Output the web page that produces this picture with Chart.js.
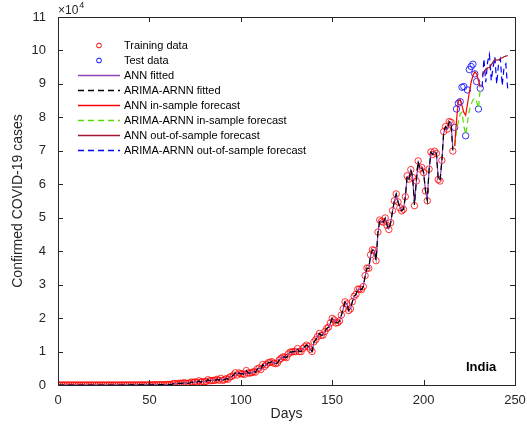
<!DOCTYPE html>
<html>
<head>
<meta charset="utf-8">
<script src="https://cdn.jsdelivr.net/npm/chart.js@4.4.1/dist/chart.umd.min.js"></script>
<style>
  html, body { margin: 0; padding: 0; background: #fff; }
  #wrap { width: 527px; height: 425px; }
</style>
</head>
<body>
<div id="wrap"><canvas id="c" width="527" height="425"></canvas></div>
<script>
// Daily confirmed COVID-19 cases, India. Day 0 .. 216 used for training.
const trainStartDay = 0;
const trainCases = [
  // days 0-32
  0,0,1,0,0,1,1,0,0,0,0,0,0,0,0,0,0,0,0,0,0,0,0,0,0,0,0,0,0,0,0,0,0,
  // days 33-63
  0,2,1,22,2,1,3,5,9,15,8,10,10,23,27,15,11,35,23,58,79,69,99,86,88,75,149,151,143,92,417,
  // days 64-93
  437,235,478,525,505,704,508,485,591,896,768,918,796,1248,869,1032,948,1061,1578,1263,1335,1383,1409,1684,1429,1990,1396,1543,1897,1718,
  // days 94-124
  2391,2564,2952,3656,2971,3602,3344,3339,3175,4311,3592,3562,3726,3991,3808,4794,5050,4628,6147,5553,6088,6654,6767,6977,6535,6387,6566,7466,7964,8380,8392,
  // days 125-154
  8171,9304,9851,9887,9971,9983,10882,9987,9985,10956,11458,11929,11502,10667,10032,12881,13586,14516,15413,14821,14933,15968,16922,17296,18552,19906,19459,18522,18653,19148,
  // days 155-185
  20903,22771,24850,24248,22252,22752,24879,26506,27114,28637,28701,28498,29429,32695,34956,34884,38902,40425,40243,37148,45720,49310,48916,48661,49931,47704,46484,48513,52123,55078,57118,
  // days 186-216
  54735,52972,52050,52509,56282,62538,61537,64399,62064,53601,60963,66999,64553,65002,63490,57981,55079,64531,69652,68898,69878,69239,61408,60975,67151,75760,77266,76472,78761,78512,69921
];

// Held-out test days 217 .. 231
const testStartDay = 217;
const testCases = [77000,82500,84200,84700,89000,89200,74500,88200,94300,95200,95900,93000,90700,82500,88700];

// Model fits over the training days
const annFitted = [
  0,0,0,0,0,0,0,0,0,0,0,0,0,0,0,0,0,0,0,0,0,0,0,0,0,0,0,0,0,0,0,0,0,
  5,4,6,12,9,7,8,10,13,16,14,15,17,24,28,22,20,33,30,55,74,72,95,90,92,84,140,150,148,110,380,
  420,300,460,510,520,670,540,510,600,860,790,900,830,1190,920,1040,980,1080,1500,1300,1360,1400,1430,1650,1480,1930,1450,1570,1860,1750,
  2330,2520,2900,3560,3050,3560,3380,3360,3240,4200,3680,3610,3760,3980,3860,4720,5000,4700,6020,5620,6080,6600,6740,6930,6580,6450,6600,7400,7900,8300,8380,
  8230,9220,9800,9880,9960,10000,10800,10050,10020,10900,11400,11850,11520,10750,10150,12700,13500,14400,15300,14900,14980,15900,16850,17250,18450,19800,19500,18650,18700,19150,
  20800,22650,24700,24300,22450,22850,24800,26400,27050,28500,28700,28550,29400,32500,34800,34900,38700,40300,40200,37500,45300,49000,48900,48700,49800,47900,46700,48500,51900,54900,56900,
  54900,53200,52300,52600,56100,62200,61600,64200,62200,54200,60700,66600,64700,65000,63600,58400,55500,64200,69400,68900,69800,69300,61900,61300,67000,75400,77000,76500,78500,78400,70500
];
const hybridFitted = [
  0,0,0,0,0,0,0,0,0,0,0,0,0,0,0,0,0,0,0,0,0,0,0,0,0,0,0,0,0,0,0,0,0,
  3,3,5,18,6,4,5,8,11,14,10,12,13,21,26,17,14,32,25,54,76,70,96,88,89,79,142,150,145,98,400,
  430,250,470,520,508,690,515,492,590,880,775,910,805,1230,880,1035,955,1065,1560,1275,1340,1385,1410,1675,1440,1970,1410,1550,1885,1725,
  2370,2555,2940,3630,2990,3595,3350,3345,3190,4280,3610,3570,3730,3990,3820,4770,5040,4650,6110,5570,6085,6640,6760,6965,6545,6400,6570,7440,7950,8365,8390,
  8190,9280,9840,9885,9970,9985,10860,10000,9990,10940,11450,11915,11510,10690,10060,12820,13560,14490,15390,14840,14935,15950,16900,17290,18520,19870,19470,18550,18660,19150,
  20860,22730,24810,24260,22300,22760,24860,26480,27100,28610,28700,28510,29420,32630,34910,34890,38830,40390,40240,37230,45570,49220,48910,48670,49900,47750,46530,48510,52050,55020,57070,
  54780,53010,52080,52520,56220,62410,61550,64350,62090,53780,60910,66900,64580,65000,63520,58090,55160,64460,69580,68900,69860,69250,61520,61050,67100,75660,77230,76490,78710,78500,70100
];

// In-sample forecasts over the test days (217 .. 231)
const annInSample    = [71400,79000,85000,85300,83500,81500,80600,84000,87500,90500,92500,93600,93000,91000,89000];
const hybridInSample = [71400,76000,78700,81000,81600,77500,74800,78500,82000,84000,85200,85800,84800,82600,88700];

// Out-of-sample forecasts beyond the data (days 232 .. 246)
const outStartDay = 232;
const annOutSample    = [92500,93500,94500,94800,94900,95700,96500,97400,97100,97200,97500,97800,98100,98300,98500];
const hybridOutSample = [89000,97500,90500,96500,98800,91000,95000,98000,90000,96000,97500,89500,95000,96000,88500];

const xTicks = [0, 50, 100, 150, 200, 250];
const yTicks = [0,10000,20000,30000,40000,50000,60000,70000,80000,90000,100000,110000];

const toPoints = (start, arr) => arr.map((v, i) => ({ x: start + i, y: v }));

const FONT = "'Liberation Sans', Arial, Helvetica, sans-serif";
const INK = '#262626';

const legendItems = [
  { label: 'Training data', kind: 'marker', color: '#ff0000' },
  { label: 'Test data', kind: 'marker', color: '#0000ff' },
  { label: 'ANN fitted', kind: 'line', color: '#8e44b8', dash: [] },
  { label: 'ARIMA-ARNN fitted', kind: 'line', color: '#000000', dash: [6, 4] },
  { label: 'ANN in-sample forecast', kind: 'line', color: '#ff0000', dash: [] },
  { label: 'ARIMA-ARNN in-sample forecast', kind: 'line', color: '#55dd00', dash: [6, 4] },
  { label: 'ANN out-of-sample forecast', kind: 'line', color: '#a2142f', dash: [] },
  { label: 'ARIMA-ARNN out-of-sample forecast', kind: 'line', color: '#0000ff', dash: [6, 4] }
];

const frame = {
  id: 'frame',
  afterDraw(chart) {
    const { ctx, chartArea: a, scales } = chart;
    ctx.save();
    // axes box
    ctx.strokeStyle = INK;
    ctx.lineWidth = 1;
    ctx.setLineDash([]);
    ctx.strokeRect(Math.round(a.left) + 0.5, Math.round(a.top) + 0.5,
                   Math.round(a.right - a.left), Math.round(a.bottom - a.top));
    // inward tick marks on all four sides
    const tl = 5;
    ctx.beginPath();
    xTicks.forEach(v => {
      const px = Math.round(scales.x.getPixelForValue(v)) + 0.5;
      ctx.moveTo(px, a.bottom); ctx.lineTo(px, a.bottom - tl);
      ctx.moveTo(px, a.top); ctx.lineTo(px, a.top + tl);
    });
    yTicks.forEach(v => {
      const py = Math.round(scales.y.getPixelForValue(v)) + 0.5;
      ctx.moveTo(a.left, py); ctx.lineTo(a.left + tl, py);
      ctx.moveTo(a.right, py); ctx.lineTo(a.right - tl, py);
    });
    ctx.stroke();

    // exponent label
    ctx.fillStyle = INK;
    ctx.textBaseline = 'alphabetic';
    ctx.textAlign = 'left';
    ctx.font = `12px ${FONT}`;
    ctx.fillText('\u00d710', a.left, a.top - 3);
    const w = ctx.measureText('\u00d710').width;
    ctx.font = `9px ${FONT}`;
    ctx.fillText('4', a.left + w + 1, a.top - 9);

    // axis titles
    ctx.font = `14px ${FONT}`;
    ctx.textAlign = 'center';
    ctx.fillText('Days', (a.left + a.right) / 2, 418);
    ctx.save();
    ctx.translate(22, (a.top + a.bottom) / 2);
    ctx.rotate(-Math.PI / 2);
    ctx.fillText('Confirmed COVID-19 cases', 0, 0);
    ctx.restore();

    // country tag
    ctx.font = `bold 13px ${FONT}`;
    ctx.textAlign = 'left';
    ctx.fillStyle = '#000';
    ctx.fillText('India', 466, 371);

    // legend
    const x0 = 78, x1 = 120, tx = 124, y0 = 45, dy = 15;
    ctx.font = `11px ${FONT}`;
    ctx.textBaseline = 'middle';
    legendItems.forEach((it, i) => {
      const y = y0 + i * dy;
      ctx.strokeStyle = it.color;
      if (it.kind === 'marker') {
        ctx.lineWidth = 1;
        ctx.setLineDash([]);
        ctx.beginPath();
        ctx.arc((x0 + x1) / 2, y + 0.5, 2.4, 0, Math.PI * 2);
        ctx.stroke();
      } else {
        ctx.lineWidth = 1.3;
        ctx.setLineDash(it.dash);
        ctx.beginPath();
        ctx.moveTo(x0, y + 0.5); ctx.lineTo(x1, y + 0.5);
        ctx.stroke();
        ctx.setLineDash([]);
      }
      ctx.fillStyle = '#000';
      ctx.fillText(it.label, tx, y + 0.5);
    });
    ctx.restore();
  }
};

const lineDs = (label, data, color, dash, order) => ({
  label, data, borderColor: color, borderWidth: 1.2, borderDash: dash,
  pointRadius: 0, fill: false, tension: 0, order
});

new Chart(document.getElementById('c'), {
  type: 'line',
  data: {
    datasets: [
      lineDs('ARIMA-ARNN fitted', toPoints(trainStartDay, hybridFitted), '#000000', [6, 4], 1),
      lineDs('ANN fitted', toPoints(trainStartDay, annFitted), '#8e44b8', [], 2),
      lineDs('ANN in-sample forecast', toPoints(testStartDay, annInSample), '#ff0000', [], 3),
      lineDs('ARIMA-ARNN in-sample forecast', toPoints(testStartDay, hybridInSample), '#55dd00', [6, 4], 4),
      lineDs('ANN out-of-sample forecast', toPoints(outStartDay, annOutSample), '#a2142f', [], 5),
      lineDs('ARIMA-ARNN out-of-sample forecast', toPoints(outStartDay, hybridOutSample), '#0000ff', [6, 4], 6),
      {
        label: 'Training data', data: toPoints(trainStartDay, trainCases), showLine: false,
        pointStyle: 'circle', pointRadius: 3.2, pointBorderColor: '#ff0000', pointBorderWidth: 0.8,
        pointBackgroundColor: 'rgba(0,0,0,0)', order: 7
      },
      {
        label: 'Test data', data: toPoints(testStartDay, testCases), showLine: false,
        pointStyle: 'circle', pointRadius: 3.2, pointBorderColor: '#0000ff', pointBorderWidth: 0.8,
        pointBackgroundColor: 'rgba(0,0,0,0)', order: 8
      }
    ]
  },
  options: {
    responsive: false,
    animation: false,
    events: [],
    layout: { padding: { top: 17, right: 12, left: 0, bottom: 0 } },
    plugins: { legend: { display: false }, tooltip: { enabled: false } },
    scales: {
      x: {
        type: 'linear', min: 0, max: 250,
        afterBuildTicks: s => { s.ticks = xTicks.map(v => ({ value: v })); },
        afterFit: s => { s.height = 40; },
        grid: { display: false }, border: { display: false },
        ticks: { font: { family: FONT, size: 13 }, color: INK, padding: 0, maxRotation: 0 }
      },
      y: {
        type: 'linear', min: 0, max: 110000,
        afterBuildTicks: s => { s.ticks = yTicks.map(v => ({ value: v })); },
        afterFit: s => { s.width = 58; },
        grid: { display: false }, border: { display: false },
        ticks: { font: { family: FONT, size: 13 }, color: INK, padding: 4,
                 callback: v => String(v / 10000) }
      }
    }
  },
  plugins: [frame]
});
</script>
</body>
</html>
